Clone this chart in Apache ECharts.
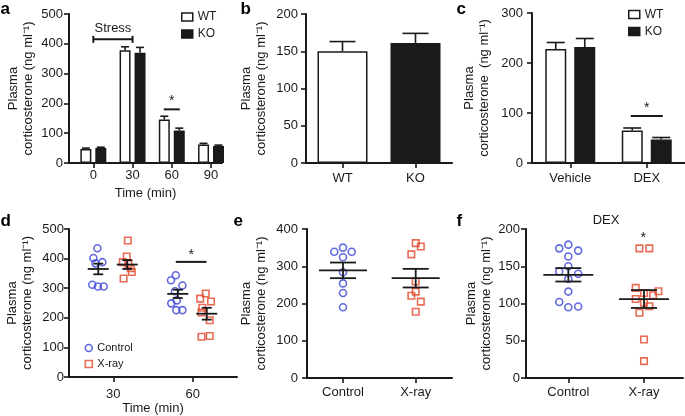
<!DOCTYPE html>
<html><head><meta charset="utf-8">
<script src="https://cdn.jsdelivr.net/npm/echarts@6/dist/echarts.min.js"></script>
<style>html,body{margin:0;padding:0;background:#fff}#c{width:685px;height:416px}</style>
</head><body><div id="c"></div>
<script>
// ---------------- DATA ----------------
// Panel a
const aTimes = [0, 30, 60, 90];
const aWT = [47, 378, 146, 62];
const aWTErr = [3, 12, 11, 4];
const aKO = [50, 370, 109, 57];
const aKOErr = [3, 18, 8, 3];
const aStressSpan = [0, 30];
const aStressLevel = 415;
const aSigTime = 60;
const aSigLevel = 180;
// Panel b
const bGroups = ['WT', 'KO'];
const bValues = [150, 161];
const bErr = [13, 13];
// Panel c
const cGroups = ['Vehicle', 'DEX'];
const cWT = [228, 65];
const cWTErr = [13, 5];
const cKO = [232, 47];
const cKOErr = [17, 4];
const cSigGroup = 1;
const cSigLevel = 94;
// Panel d
const dTimes = [30, 60];
const dControl30 = [435, 402, 388, 384, 312, 306, 306];
const dControl30Jitter = [-6.0, -7.5, -4.1, -6.7, -7.9, -5.8, -3.6];
const dXray30 = [461, 407, 388, 382, 368, 355, 333];
const dXray30Jitter = [5.5, 5.1, 3.6, 5.7, 6.6, 7.0, 3.9];
const dControl60 = [344, 327, 309, 290, 259, 249, 226, 226];
const dControl60Jitter = [-6.4, -8.2, -3.9, -6.7, -6.0, -8.1, -6.2, -3.9];
const dXray60 = [282, 265, 255, 234, 218, 192, 136, 139];
const dXray60Jitter = [4.9, 2.8, 6.9, 3.6, 3.3, 6.4, 3.3, 6.4];
const dControlMean = [365, 281];
const dControlSem = [18, 14];
const dXrayMean = [380, 214];
const dXraySem = [15, 20];
const dSigSpan = [53.6, 65.2];
const dSigLevel = 389;
// Panel e
const eGroups = ['Control', 'X-ray'];
const eControl = [339, 350, 339, 324, 284, 254, 228, 190];
const eControlJitter = [-0.12, 0, 0.12, 0, 0, 0, 0, 0];
const eXray = [362, 353, 332, 259, 232, 221, 205, 178];
const eXrayJitter = [0, 0.07, -0.06, 0, 0, -0.06, 0.07, 0];
const eMean = [289, 268];
const eSem = [21, 25];
// Panel f
const fGroups = ['Control', 'X-ray'];
const fControl = [174, 179, 171, 163, 150, 143, 140, 133, 116, 102, 95, 96];
const fControlJitter = [-0.12, 0, 0.13, 0, 0, -0.12, 0.13, 0, 0, -0.12, 0, 0.13];
const fXray = [174, 174, 121, 116.5, 111, 114, 106, 96.4, 101, 87.5, 51.7, 22.7];
const fXrayJitter = [-0.06, 0.07, -0.11, 0.19, 0.12, 0, -0.11, 0.07, 0, -0.06, 0, 0];
const fMean = [138.5, 106];
const fSem = [9, 12];
const fStarGroup = 1;
const fStarLevel = 188;

// ---------------- STYLE ----------------
const FONT = '"Liberation Sans", Arial, Helvetica, sans-serif';
const INK = '#1a1a1a';
const BLUE = '#3b45d8';
const RED = '#e2462c';
const YNAME = 'Plasma\ncorticosterone (ng ml\u207B\u00B9)';
const YNAME_C = 'Plasma\ncorticosterone  (ng ml\u207B\u00B9)';
const lineS = { color: INK, width: 2 };
const tickS = { color: INK, width: 1.6 };

function yAx(gi, max, interval, nameGap, margin, name) {
  return {
    gridIndex: gi, type: 'value', min: 0, max: max, interval: interval,
    axisLine: { show: true, onZero: false, lineStyle: lineS },
    axisTick: { show: true, length: 5, lineStyle: tickS },
    axisLabel: { color: INK, fontSize: 13, fontFamily: FONT, margin: margin },
    splitLine: { show: false },
    name: name || YNAME, nameLocation: 'middle', nameRotate: 90, nameGap: nameGap,
    nameTextStyle: { color: INK, fontSize: 13, fontFamily: FONT, lineHeight: 15 }
  };
}
function xValAx(gi, min, max, ticks, margin, fmt, name, nameGap) {
  const ax = {
    gridIndex: gi, type: 'value', min: min, max: max,
    axisLine: { show: true, onZero: false, lineStyle: lineS },
    axisTick: { show: true, length: 5, lineStyle: tickS, customValues: ticks },
    axisLabel: { color: INK, fontSize: 13, fontFamily: FONT, margin: margin, customValues: ticks, formatter: fmt },
    splitLine: { show: false }
  };
  if (name) {
    ax.name = name; ax.nameLocation = 'middle'; ax.nameGap = nameGap;
    ax.nameTextStyle = { color: INK, fontSize: 13, fontFamily: FONT };
  }
  return ax;
}
function xCatAx(gi, cats, margin) {
  return {
    gridIndex: gi, type: 'category', data: cats,
    axisLine: { show: true, onZero: false, lineStyle: lineS },
    axisTick: { show: true, length: 5, alignWithLabel: true, lineStyle: tickS },
    axisLabel: { color: INK, fontSize: 13, fontFamily: FONT, margin: margin },
    splitLine: { show: false }
  };
}
function errRender(offsetPx, capHalf) {
  return function (params, api) {
    const x = api.value(0), y = api.value(1), e = api.value(2);
    const p0 = api.coord([x, y]); const p1 = api.coord([x, y + e]);
    const cx = p0[0] + offsetPx;
    const st = { stroke: INK, lineWidth: 1.6 };
    return { type: 'group', children: [
      { type: 'line', shape: { x1: cx, y1: p0[1], x2: cx, y2: p1[1] }, style: st },
      { type: 'line', shape: { x1: cx - capHalf, y1: p1[1], x2: cx + capHalf, y2: p1[1] }, style: st }
    ] };
  };
}
function meanRender(offsetPx, halfMean, halfCap) {
  return function (params, api) {
    const x = api.value(0), m = api.value(1), s = api.value(2);
    const pm = api.coord([x, m]), pu = api.coord([x, m + s]), pl = api.coord([x, m - s]);
    const cx = pm[0] + offsetPx;
    const st = { stroke: INK, lineWidth: 1.8 };
    return { type: 'group', children: [
      { type: 'line', shape: { x1: cx - halfMean, y1: pm[1], x2: cx + halfMean, y2: pm[1] }, style: st },
      { type: 'line', shape: { x1: cx, y1: pu[1], x2: cx, y2: pl[1] }, style: st },
      { type: 'line', shape: { x1: cx - halfCap, y1: pu[1], x2: cx + halfCap, y2: pu[1] }, style: st },
      { type: 'line', shape: { x1: cx - halfCap, y1: pl[1], x2: cx + halfCap, y2: pl[1] }, style: st }
    ] };
  };
}
// significance line between two x values (or around a centre with px half width) plus star
function sigRender(halfPx, starGap, withLine) {
  return function (params, api) {
    const x1 = api.value(0), x2 = api.value(1), y = api.value(2);
    const p1 = api.coord([x1, y]), p2 = api.coord([x2, y]);
    let xa = p1[0], xb = p2[0];
    if (halfPx) { xa = p1[0] - halfPx; xb = p1[0] + halfPx; }
    const children = [];
    if (withLine) children.push({ type: 'line', shape: { x1: xa, y1: p1[1], x2: xb, y2: p1[1] }, style: { stroke: INK, lineWidth: 2 } });
    children.push({ type: 'text', x: (xa + xb) / 2, y: p1[1] - starGap,
      style: { text: '*', fill: INK, font: '14px ' + FONT, align: 'center', verticalAlign: 'middle' } });
    return { type: 'group', children: children };
  };
}
function stressRender(params, api) {
  const p1 = api.coord([api.value(0), api.value(2)]), p2 = api.coord([api.value(1), api.value(2)]);
  const st = { stroke: INK, lineWidth: 2 };
  return { type: 'group', children: [
    { type: 'line', shape: { x1: p1[0], y1: p1[1], x2: p2[0], y2: p1[1] }, style: st },
    { type: 'line', shape: { x1: p1[0], y1: p1[1] - 3.5, x2: p1[0], y2: p1[1] + 3.5 }, style: st },
    { type: 'line', shape: { x1: p2[0], y1: p1[1] - 3.5, x2: p2[0], y2: p1[1] + 3.5 }, style: st },
    { type: 'text', x: (p1[0] + p2[0]) / 2, y: p1[1] - 11,
      style: { text: 'Stress', fill: INK, font: '13px ' + FONT, align: 'center', verticalAlign: 'middle' } }
  ] };
}
const barStyle = (fill) => ({ color: fill, borderColor: INK, borderWidth: 1.5 });
const hollowCircle = { color: 'rgba(255,255,255,0)', borderColor: BLUE, borderWidth: 1.6 };
const hollowSquare = { color: 'rgba(255,255,255,0)', borderColor: RED, borderWidth: 1.6 };
const bFills = ['#ffffff', INK];

function scatterSeries(name, gi, xs, jit, vals, isCircle) {
  return {
    name: name, type: 'scatter', xAxisIndex: gi, yAxisIndex: gi, silent: true,
    symbol: isCircle ? 'circle' : 'rect', symbolSize: isCircle ? 7 : 6.5,
    itemStyle: isCircle ? hollowCircle : hollowSquare, z: 3,
    data: vals.map((v, i) => [xs + jit[i], v])
  };
}

const option = {
  animation: false,
  textStyle: { fontFamily: FONT, color: INK },
  grid: [
    { left: 69, top: 14, width: 153, height: 149 },
    { left: 306, top: 14, width: 146, height: 149 },
    { left: 532, top: 13, width: 153, height: 150 },
    { left: 69, top: 229, width: 168, height: 149 },
    { left: 307, top: 229, width: 145, height: 149 },
    { left: 526, top: 229, width: 157, height: 149 }
  ],
  xAxis: [
    xValAx(0, -18.6, 98.4, aTimes, 6, null, 'Time (min)', 24),
    xCatAx(1, bGroups, 9),
    xCatAx(2, cGroups, 9),
    xValAx(3, 13.3, 76.7, dTimes, 11, null, 'Time (min)', 23),
    xValAx(4, -0.495, 1.499, [0, 1], 8, v => eGroups[Math.round(v)]),
    xValAx(5, -0.559, 1.515, [0, 1], 8, v => fGroups[Math.round(v)])
  ],
  yAxis: [
    yAx(0, 500, 100, 33, 6),
    yAx(1, 200, 50, 37, 8),
    yAx(2, 300, 100, 40, 9, YNAME_C),
    yAx(3, 500, 100, 34, 5),
    yAx(4, 400, 100, 38, 9),
    yAx(5, 200, 50, 32, 6)
  ],
  legend: [
    { orient: 'vertical', left: 181, top: 11, padding: 0, itemWidth: 11, itemHeight: 8, itemGap: 5, icon: 'rect', selectedMode: false,
      textStyle: { fontSize: 12, fontFamily: FONT, color: INK, lineHeight: 12 },
      data: [{ name: 'WT', itemStyle: barStyle('#ffffff') }, { name: 'KO', itemStyle: barStyle(INK) }] },
    { orient: 'vertical', left: 628, top: 8.5, padding: 0, itemWidth: 11, itemHeight: 8, itemGap: 5, icon: 'rect', selectedMode: false,
      textStyle: { fontSize: 12, fontFamily: FONT, color: INK, lineHeight: 12 },
      data: [{ name: 'WT', itemStyle: barStyle('#ffffff') }, { name: 'KO', itemStyle: barStyle(INK) }] },
    { orient: 'vertical', left: 84.5, top: 342.5, padding: 0, itemWidth: 7, itemHeight: 7, itemGap: 5, selectedMode: false,
      textStyle: { fontSize: 11, fontFamily: FONT, color: INK, lineHeight: 11 },
      data: [{ name: 'Control', icon: 'circle', itemStyle: hollowCircle }, { name: 'X-ray', icon: 'rect', itemStyle: hollowSquare }] }
  ],
  graphic: [
    { type: 'text', x: 0.5, y: 9, style: { text: 'a', font: 'bold 17px ' + FONT, fill: '#000', align: 'left', verticalAlign: 'middle' } },
    { type: 'text', x: 240.5, y: 9, style: { text: 'b', font: 'bold 17px ' + FONT, fill: '#000', align: 'left', verticalAlign: 'middle' } },
    { type: 'text', x: 456.5, y: 9, style: { text: 'c', font: 'bold 17px ' + FONT, fill: '#000', align: 'left', verticalAlign: 'middle' } },
    { type: 'text', x: 0.5, y: 221, style: { text: 'd', font: 'bold 17px ' + FONT, fill: '#000', align: 'left', verticalAlign: 'middle' } },
    { type: 'text', x: 233.5, y: 221, style: { text: 'e', font: 'bold 17px ' + FONT, fill: '#000', align: 'left', verticalAlign: 'middle' } },
    { type: 'text', x: 456.5, y: 221, style: { text: 'f', font: 'bold 17px ' + FONT, fill: '#000', align: 'left', verticalAlign: 'middle' } },
    { type: 'text', x: 606, y: 220, style: { text: 'DEX', font: '13px ' + FONT, fill: INK, align: 'center', verticalAlign: 'middle' } }
  ],
  series: [
    // panel a
    { name: 'WT', type: 'bar', xAxisIndex: 0, yAxisIndex: 0, barWidth: 11, barGap: '36%', silent: true,
      itemStyle: barStyle('#ffffff'), data: aTimes.map((t, i) => [t, aWT[i]]) },
    { name: 'KO', type: 'bar', xAxisIndex: 0, yAxisIndex: 0, barWidth: 11, barGap: '36%', silent: true,
      itemStyle: barStyle(INK), data: aTimes.map((t, i) => [t, aKO[i]]) },
    { name: 'aErrWT', type: 'custom', xAxisIndex: 0, yAxisIndex: 0, z: 3, silent: true, renderItem: errRender(-7.5, 4),
      data: aTimes.map((t, i) => [t, aWT[i], aWTErr[i]]) },
    { name: 'aErrKO', type: 'custom', xAxisIndex: 0, yAxisIndex: 0, z: 3, silent: true, renderItem: errRender(7.5, 4),
      data: aTimes.map((t, i) => [t, aKO[i], aKOErr[i]]) },
    { name: 'aStress', type: 'custom', xAxisIndex: 0, yAxisIndex: 0, z: 3, silent: true, renderItem: stressRender,
      data: [[aStressSpan[0], aStressSpan[1], aStressLevel]] },
    { name: 'aSig', type: 'custom', xAxisIndex: 0, yAxisIndex: 0, z: 3, silent: true, renderItem: sigRender(8, 8, true),
      data: [[aSigTime, aSigTime, aSigLevel]] },
    // panel b
    { name: 'bBars', type: 'bar', xAxisIndex: 1, yAxisIndex: 1, barWidth: 50, silent: true,
      itemStyle: { borderColor: INK, borderWidth: 1.5 },
      data: bValues.map((v, i) => ({ value: v, itemStyle: { color: bFills[i] } })) },
    { name: 'bErr', type: 'custom', xAxisIndex: 1, yAxisIndex: 1, z: 3, silent: true, renderItem: errRender(0, 13),
      data: bValues.map((v, i) => [i, v, bErr[i]]) },
    // panel c
    { name: 'WT', type: 'bar', xAxisIndex: 2, yAxisIndex: 2, barWidth: 21, barGap: '38%', silent: true,
      itemStyle: barStyle('#ffffff'), data: cWT },
    { name: 'KO', type: 'bar', xAxisIndex: 2, yAxisIndex: 2, barWidth: 21, barGap: '38%', silent: true,
      itemStyle: barStyle(INK), data: cKO },
    { name: 'cErrWT', type: 'custom', xAxisIndex: 2, yAxisIndex: 2, z: 3, silent: true, renderItem: errRender(-14.5, 9),
      data: cWT.map((v, i) => [i, v, cWTErr[i]]) },
    { name: 'cErrKO', type: 'custom', xAxisIndex: 2, yAxisIndex: 2, z: 3, silent: true, renderItem: errRender(14.5, 9),
      data: cKO.map((v, i) => [i, v, cKOErr[i]]) },
    { name: 'cSig', type: 'custom', xAxisIndex: 2, yAxisIndex: 2, z: 3, silent: true, renderItem: sigRender(16, 8, true),
      data: [[cSigGroup, cSigGroup, cSigLevel]] },
    // panel d
    scatterSeries('Control', 3, dTimes[0], dControl30Jitter, dControl30, true),
    scatterSeries('Control', 3, dTimes[1], dControl60Jitter, dControl60, true),
    scatterSeries('X-ray', 3, dTimes[0], dXray30Jitter, dXray30, false),
    scatterSeries('X-ray', 3, dTimes[1], dXray60Jitter, dXray60, false),
    { name: 'dMeanC', type: 'custom', xAxisIndex: 3, yAxisIndex: 3, z: 4, silent: true, renderItem: meanRender(-15, 10.5, 5),
      data: dTimes.map((t, i) => [t, dControlMean[i], dControlSem[i]]) },
    { name: 'dMeanX', type: 'custom', xAxisIndex: 3, yAxisIndex: 3, z: 4, silent: true, renderItem: meanRender(14, 10.5, 5),
      data: dTimes.map((t, i) => [t, dXrayMean[i], dXraySem[i]]) },
    { name: 'dSig', type: 'custom', xAxisIndex: 3, yAxisIndex: 3, z: 4, silent: true, renderItem: sigRender(0, 7, true),
      data: [[dSigSpan[0], dSigSpan[1], dSigLevel]] },
    // panel e
    scatterSeries('Control', 4, 0, eControlJitter, eControl, true),
    scatterSeries('X-ray', 4, 1, eXrayJitter, eXray, false),
    { name: 'eMean', type: 'custom', xAxisIndex: 4, yAxisIndex: 4, z: 4, silent: true, renderItem: meanRender(0, 24, 13),
      data: eMean.map((m, i) => [i, m, eSem[i]]) },
    // panel f
    scatterSeries('Control', 5, 0, fControlJitter, fControl, true),
    scatterSeries('X-ray', 5, 1, fXrayJitter, fXray, false),
    { name: 'fMean', type: 'custom', xAxisIndex: 5, yAxisIndex: 5, z: 4, silent: true, renderItem: meanRender(0, 25, 13),
      data: fMean.map((m, i) => [i, m, fSem[i]]) },
    { name: 'fStar', type: 'custom', xAxisIndex: 5, yAxisIndex: 5, z: 4, silent: true, renderItem: sigRender(0, 0, false),
      data: [[fStarGroup - 0.01, fStarGroup - 0.01, fStarLevel]] }
  ]
};
const chart = echarts.init(document.getElementById('c'), null, { renderer: 'canvas' });
chart.setOption(option);
</script>
</body></html>
